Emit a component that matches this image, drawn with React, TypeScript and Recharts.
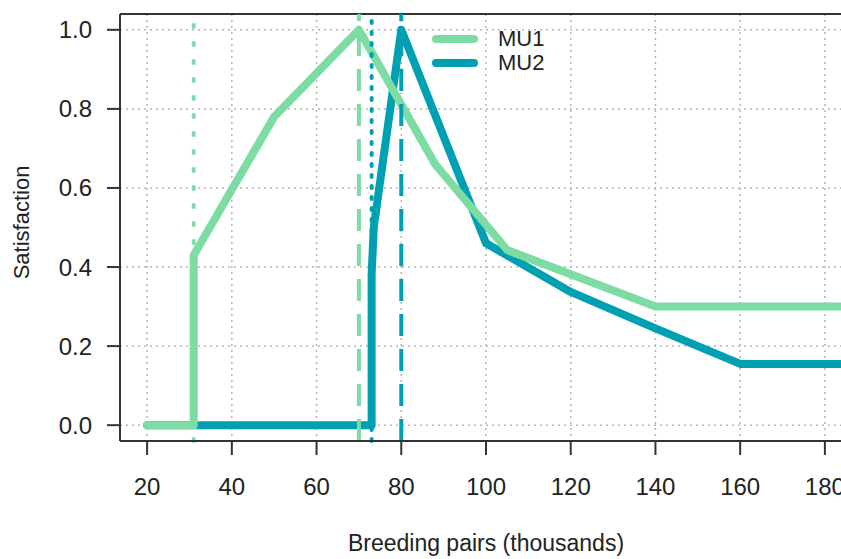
import React from 'react';
import { LineChart, Line, XAxis, YAxis, CartesianGrid, ReferenceLine } from 'recharts';

const xTicks = [20, 40, 60, 80, 100, 120, 140, 160, 180];
const yTicks = [0, 0.2, 0.4, 0.6, 0.8, 1.0];

// MU1 satisfaction curve
const mu1X = [20, 31, 31, 50, 70, 88, 105, 140, 200];
const mu1Y = [0, 0, 0.43, 0.78, 1.0, 0.66, 0.443, 0.3, 0.3];

// MU2 satisfaction curve
const mu2X = [20, 73, 73, 73.5, 80, 100, 120, 140, 160, 200];
const mu2Y = [0, 0, 0.38, 0.5, 1.0, 0.46, 0.337, 0.245, 0.155, 0.155];

// vertical markers (dotted = minimum, dashed = optimum)
const mu1Min = 31;
const mu1Opt = 70;
const mu2Min = 73;
const mu2Opt = 80;

const seriesNames = ['MU1', 'MU2'];

const GREEN = '#7ddba4';
const TEAL = '#00a0b3';
const AXIS = '#333333';
const FONT = '"Liberation Sans", Arial, sans-serif';

const toPoints = (xs: number[], ys: number[]) => xs.map((x, i) => ({ x, y: ys[i] }));
const mu1 = toPoints(mu1X, mu1Y);
const mu2 = toPoints(mu2X, mu2Y);

const xDomain: [number, number] = [13.6, 186.4];
const yDomain: [number, number] = [-0.04, 1.04];

function LegendBox() {
  const colors = [GREEN, TEAL];
  return (
    <div style={{ position: 'absolute', top: 27, left: 428, fontFamily: FONT, fontSize: 22, color: '#222' }}>
      {seriesNames.map((name, i) => (
        <div key={name} style={{ display: 'flex', alignItems: 'center', height: 24 }}>
          <svg width={54} height={24}>
            <line x1={8} y1={12} x2={46} y2={12} stroke={colors[i]} strokeWidth={8} strokeLinecap="round" />
          </svg>
          <span style={{ marginLeft: 16, lineHeight: '24px' }}>{name}</span>
        </div>
      ))}
    </div>
  );
}

function YTitle(props: any) {
  const vb = props.viewBox || {};
  const cx = 21;
  const cy = vb.y + vb.height / 2 - 5;
  return (
    <text x={cx} y={cy} transform={`rotate(-90 ${cx} ${cy})`} textAnchor="middle" dominantBaseline="central"
      fontFamily={FONT} fontSize={22} fill="#222">
      Satisfaction
    </text>
  );
}

function XTitle(props: any) {
  const vb = props.viewBox || {};
  const cx = vb.x + vb.width / 2;
  return (
    <text x={cx} y={543} textAnchor="middle" dominantBaseline="central" fontFamily={FONT} fontSize={23} fill="#222">
      Breeding pairs (thousands)
    </text>
  );
}

export default function App() {
  return (
    <div style={{ position: 'fixed', left: 0, top: 0, width: 841, height: 559, overflow: 'hidden', background: '#fff' }}>
      <LineChart width={852} height={559} margin={{ top: 14, right: 0, bottom: 0, left: 0 }}>
        <CartesianGrid stroke="#b5b5b5" strokeDasharray="2 4" strokeWidth={1.5} />
        <XAxis
          type="number"
          dataKey="x"
          domain={xDomain}
          allowDataOverflow
          ticks={xTicks}
          height={118}
          tickSize={14}
          tickMargin={23}
          axisLine={{ stroke: AXIS, strokeWidth: 2 }}
          tickLine={{ stroke: AXIS, strokeWidth: 2 }}
          tick={{ fontFamily: FONT, fontSize: 24, fill: '#222' }}
          label={<XTitle />}
        />
        <YAxis
          type="number"
          dataKey="y"
          domain={yDomain}
          allowDataOverflow
          ticks={yTicks}
          width={120}
          tickSize={13}
          tickMargin={15}
          tickFormatter={(v: number) => v.toFixed(1)}
          axisLine={{ stroke: AXIS, strokeWidth: 2 }}
          tickLine={{ stroke: AXIS, strokeWidth: 2 }}
          tick={{ fontFamily: FONT, fontSize: 24, fill: '#222' }}
          label={<YTitle />}
        />
        <ReferenceLine y={yDomain[1]} stroke={AXIS} strokeWidth={2} />
        <ReferenceLine x={xDomain[1]} stroke={AXIS} strokeWidth={2} />
        <Line data={mu2} dataKey="y" name={seriesNames[1]} type="linear" stroke={TEAL} strokeWidth={8}
          strokeLinecap="round" strokeLinejoin="round" dot={false} activeDot={false} isAnimationActive={false} />
        <Line data={mu1} dataKey="y" name={seriesNames[0]} type="linear" stroke={GREEN} strokeWidth={8}
          strokeLinecap="round" strokeLinejoin="round" dot={false} activeDot={false} isAnimationActive={false} />
        <ReferenceLine x={mu1Min} stroke={GREEN} strokeWidth={4} strokeDasharray="2 16" strokeLinecap="round" />
        <ReferenceLine x={mu1Opt} stroke={GREEN} strokeWidth={4} strokeDasharray="22 13" />
        <ReferenceLine x={mu2Min} stroke={TEAL} strokeWidth={4} strokeDasharray="2 9" strokeLinecap="round" />
        <ReferenceLine x={mu2Opt} stroke={TEAL} strokeWidth={4} strokeDasharray="22 13" />
      </LineChart>
      <LegendBox />
    </div>
  );
}
